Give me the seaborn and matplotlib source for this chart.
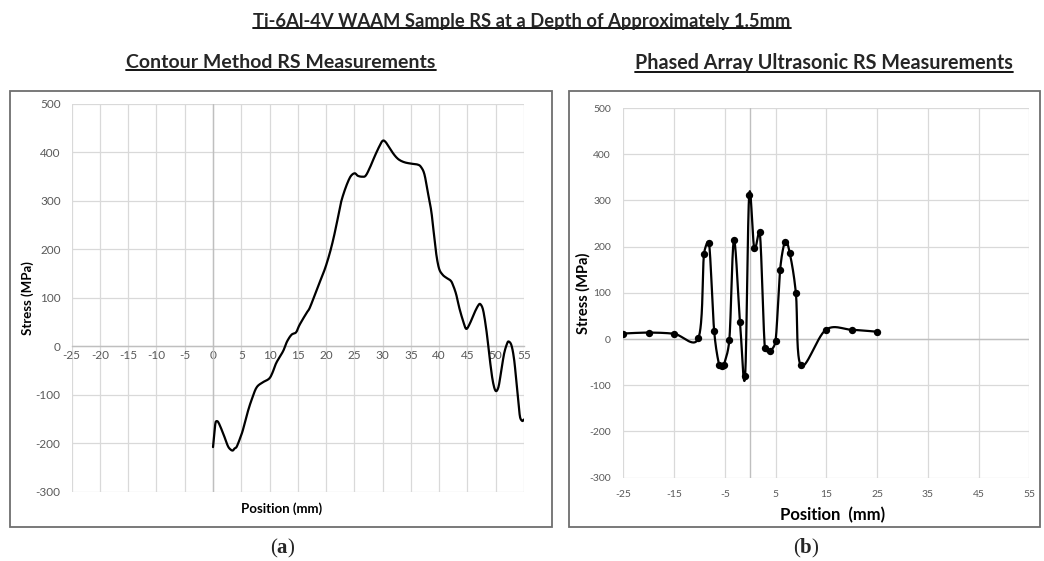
import numpy as np
import matplotlib
matplotlib.use("Agg")
import matplotlib.pyplot as plt
from matplotlib.patches import Rectangle
from matplotlib.lines import Line2D
import seaborn as sns

# Contour method residual stress profile (position mm, stress MPa)
contour_pos = [0.0, 0.45, 0.9, 1.8, 2.6, 3.1, 3.5, 3.8, 4.2, 5.0, 5.4, 6.2, 6.9, 7.7,
               8.7, 9.9, 10.5, 11.2, 12.4, 13.1, 13.9, 14.7, 15.3, 16.5, 17.1, 18.0,
               18.9, 19.8, 20.6, 21.3, 22.0, 22.6, 23.3, 24.0, 24.5, 25.1, 25.6, 26.3,
               27.0, 27.8, 28.6, 29.4, 30.0, 30.5, 31.2, 32.0, 32.8, 33.8, 35.0, 36.2,
               36.8, 37.4, 38.0, 38.6, 39.0, 39.5, 40.0, 40.6, 41.2, 42.0, 42.4, 43.0,
               43.6, 44.3, 44.8, 45.4, 46.2, 46.9, 47.3, 47.8, 48.4, 49.0, 49.5, 50.0,
               50.5, 51.0, 51.5, 52.0, 52.3, 52.8, 53.3, 53.8, 54.3, 54.7, 55.0]
contour_stress = [-208, -157, -156, -180, -205, -213, -215, -211, -207, -183, -168, -133,
                  -108, -85, -75, -67, -55, -34, -10, 10, 24, 29, 44, 68, 79, 106,
                  133, 160, 190, 222, 260, 295, 322, 343, 353, 357, 352, 350,
                  352, 370, 392, 412, 424, 422, 410, 396, 386, 380, 377, 375,
                  370, 355, 318, 280, 240, 190, 160, 148, 142, 136, 128, 108,
                  78, 50, 36, 46, 68, 84, 87, 74, 30, -30, -72, -92,
                  -84, -50, -15, 5, 10, 2, -30, -90, -145, -154, -151]

# Phased array ultrasonic measurement points
pa_pos = [-25.0, -20.0, -15.0, -10.2, -9.1, -8.1, -7.1, -6.1, -5.6, -5.2, -4.1, -3.2,
          -2.0, -1.0, -0.2, 0.8, 1.9, 2.9, 3.9, 5.0, 5.9, 6.9, 7.8, 9.0, 10.0,
          14.9, 20.0, 24.9]
pa_stress = [12, 14, 11.5, 2, 184, 207, 18, -57, -59, -57, -1, 214,
             36, -80, 311, 197, 231, -20, -26, -4, 150, 211, 186, 100, -57,
             20, 20, 16]

left_xticks = list(range(-25, 56, 5))
right_xticks = list(range(-25, 56, 10))
yticks = list(range(-300, 501, 100))

main_title = "Ti-6Al-4V WAAM Sample RS at a Depth of Approximately 1.5mm"
left_title = "Contour Method RS Measurements"
right_title = "Phased Array Ultrasonic RS Measurements"

sns.set_style("white")
plt.rcParams["font.family"] = ["Lato", "DejaVu Sans"]
plt.rcParams["axes.unicode_minus"] = False
plt.rcParams["mathtext.fontset"] = "custom"
plt.rcParams["mathtext.rm"] = "Liberation Serif"
plt.rcParams["mathtext.bf"] = "Liberation Serif:bold"

TICK = "#595959"
GRID = "#d9d9d9"
AXIS = "#bfbfbf"
W, H = 1044, 561


def smooth(xs, ys, sx, sy, n=24, cap=0.5):
    """Cubic Bezier smoothing through every point; tangent handles are
    limited relative to the segment length (measured in pixels)."""
    pts = np.column_stack([xs, ys]).astype(float)
    scale = np.array([sx, sy])
    P = np.vstack([pts[0], pts, pts[-1]])
    t = np.linspace(0, 1, n, endpoint=False)[:, None]
    segs = []
    for i in range(1, len(P) - 2):
        p0, p1, p2, p3 = P[i - 1], P[i], P[i + 1], P[i + 2]
        seg_len = np.linalg.norm((p2 - p1) * scale)
        h1 = (p2 - p0) / 6.0
        h2 = (p3 - p1) / 6.0
        for h in (h1, h2):
            L = np.linalg.norm(h * scale)
            if L > cap * seg_len and L > 0:
                h *= cap * seg_len / L
        c1 = p1 + h1
        c2 = p2 - h2
        segs.append((1 - t) ** 3 * p1 + 3 * (1 - t) ** 2 * t * c1
                    + 3 * (1 - t) * t ** 2 * c2 + t ** 3 * p2)
    segs.append(pts[-1:])
    out = np.vstack(segs)
    return out[:, 0], out[:, 1]


def fx(px):
    return px / W


def fy(py):
    return 1 - py / H


fig = plt.figure(figsize=(10.44, 5.61), dpi=100)

# panel frames
for x0, x1 in [(10, 552), (569, 1040)]:
    fig.patches.append(Rectangle((fx(x0), fy(527)), fx(x1) - fx(x0), fy(91) - fy(527),
                                 transform=fig.transFigure, fill=False,
                                 edgecolor="#6e6e6e", linewidth=1.3, zorder=0))

# ---- left panel: contour method ----
axL = fig.add_axes([fx(71.7), fy(491.7), fx(523.9) - fx(71.7), fy(104) - fy(491.7)])
axL.set_xlim(-25, 55)
axL.set_ylim(-300, 500)
axL.set_xticks(left_xticks)
axL.set_yticks(yticks)
axL.grid(True, color=GRID, linewidth=0.9)
for s in ["left", "right", "top"]:
    axL.spines[s].set_visible(False)
axL.spines["bottom"].set_position(("data", 0))
axL.spines["bottom"].set_color(AXIS)
axL.spines["bottom"].set_linewidth(1.0)
axL.axvline(0, color=AXIS, linewidth=1.0, zorder=1)
axL.tick_params(axis="both", length=0, colors=TICK, labelsize=8.5)
axL.tick_params(axis="x", pad=3)
axL.tick_params(axis="y", pad=8)
lx_scale = (523.9 - 71.7) / 80.0
ly_scale = (491.7 - 104) / 800.0
cx, cy = smooth(contour_pos, contour_stress, lx_scale, ly_scale, n=8, cap=0.6)
sns.lineplot(x=cx, y=cy, ax=axL, color="black", linewidth=1.6, sort=False,
             estimator=None, zorder=3)
axL.set_xlabel("")
axL.set_ylabel("")

# ---- right panel: phased array ultrasonic ----
axR = fig.add_axes([fx(623.3), fy(477.7), fx(1029.3) - fx(623.3), fy(108) - fy(477.7)])
axR.set_xlim(-25, 55)
axR.set_ylim(-300, 500)
axR.set_xticks(right_xticks)
axR.set_yticks(yticks)
axR.grid(True, color=GRID, linewidth=0.9)
for s in ["left", "right", "top", "bottom"]:
    axR.spines[s].set_visible(False)
axR.axhline(0, color=AXIS, linewidth=1.0, zorder=1)
axR.axvline(0, color=AXIS, linewidth=1.0, zorder=1)
axR.tick_params(axis="both", length=0, colors=TICK, labelsize=7.5)
axR.tick_params(axis="x", pad=9)
axR.tick_params(axis="y", pad=9)
rx_scale = (1029.3 - 623.3) / 80.0
ry_scale = (477.7 - 108) / 800.0
sx, sy = smooth(pa_pos, pa_stress, rx_scale, ry_scale, n=30, cap=0.5)
sns.lineplot(x=sx, y=sy, ax=axR, color="black", linewidth=1.6, sort=False,
             estimator=None, zorder=3)
sns.scatterplot(x=pa_pos, y=pa_stress, ax=axR, color="black", s=28,
                edgecolor="black", linewidth=0, zorder=4)
axR.set_xlabel("")
axR.set_ylabel("")

# axis titles
fig.text(fx(28), fy(298), "Stress (MPa)", rotation=90, ha="center", va="center",
         fontsize=9.5, fontweight="bold", color="black")
fig.text(fx(282), fy(509), "Position (mm)", ha="center", va="center",
         fontsize=9.5, fontweight="bold", color="black")
fig.text(fx(583), fy(293), "Stress (MPa)", rotation=90, ha="center", va="center",
         fontsize=10.5, fontweight="bold", color="black")
fig.text(fx(833), fy(515), "Position  (mm)", ha="center", va="center",
         fontsize=12, fontweight="bold", color="black")

# headings (underlined)
headings = [
    fig.text(fx(522), fy(21), main_title, ha="center", va="center",
             fontsize=13.2, fontweight="bold"),
    fig.text(fx(281), fy(63), left_title, ha="center", va="center",
             fontsize=14, fontweight="bold"),
    fig.text(fx(824), fy(63), right_title, ha="center", va="center",
             fontsize=14.2, fontweight="bold"),
]

fig.text(fx(283), fy(548), r"$\mathrm{(}\mathbf{a}\mathrm{)}$", ha="center",
         va="center", fontsize=15)
fig.text(fx(806), fy(548), r"$\mathrm{(}\mathbf{b}\mathrm{)}$", ha="center",
         va="center", fontsize=15)

fig.canvas.draw()
renderer = fig.canvas.get_renderer()
for t in headings:
    bb = t.get_window_extent(renderer).transformed(fig.transFigure.inverted())
    yline = bb.y0 + 1.5 / H
    fig.add_artist(Line2D([bb.x0, bb.x1], [yline, yline], transform=fig.transFigure,
                          color="black", linewidth=1.3))

fig.savefig("out.png", dpi=100)
